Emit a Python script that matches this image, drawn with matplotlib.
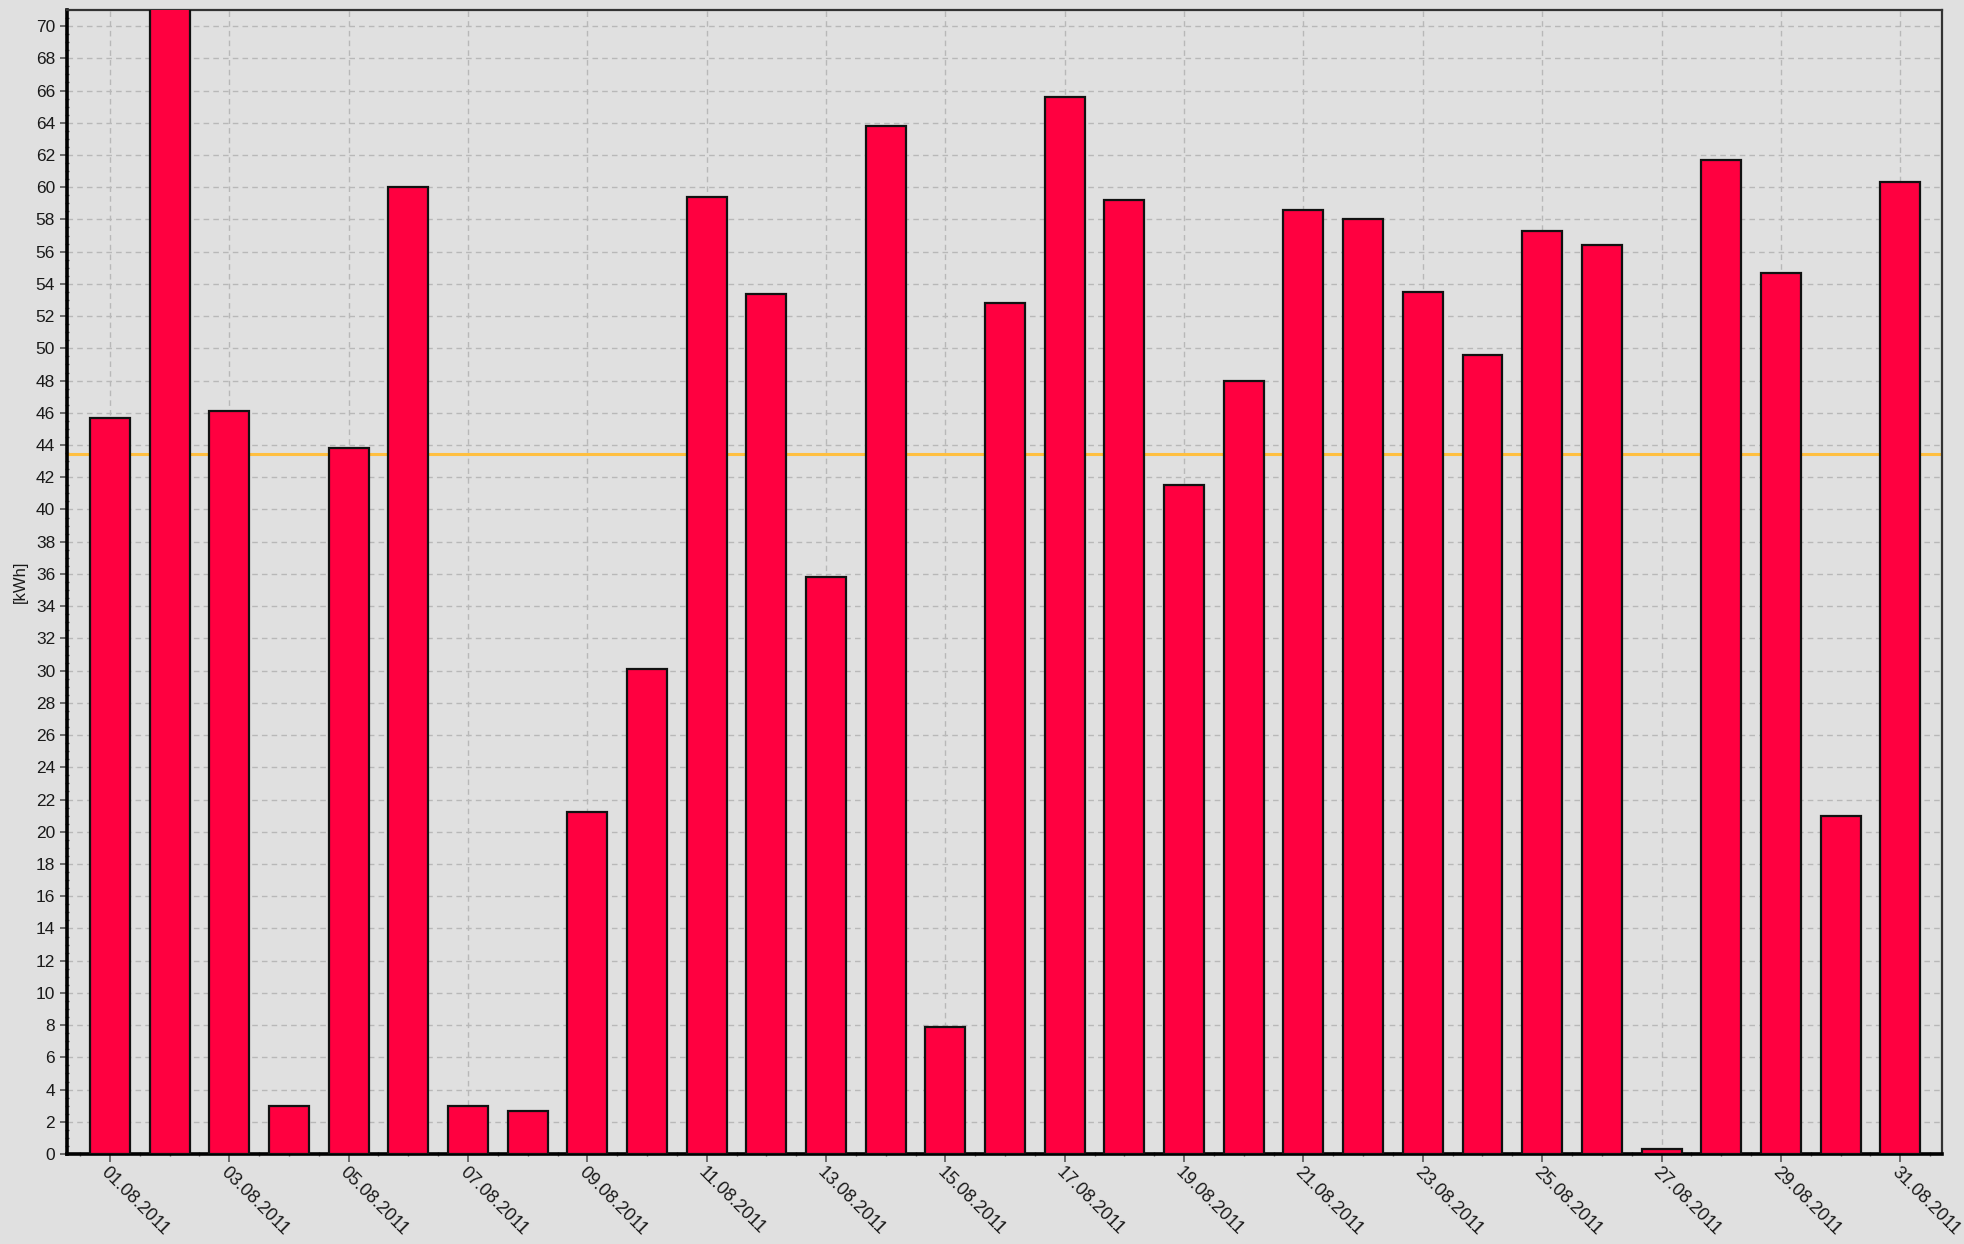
import numpy as np
import matplotlib
matplotlib.use("Agg")
import matplotlib.pyplot as plt
from matplotlib.ticker import MultipleLocator

# Tagesertrag August 2011 in kWh
days = list(range(1, 32))
labels = ["%02d.08.2011" % d for d in days]
energy = [45.7, 71.9, 46.1, 3.0, 43.8, 60.0, 3.0, 2.7, 21.2, 30.1,
          59.4, 53.4, 35.8, 63.8, 7.9, 52.8, 65.6, 59.2, 41.5, 48.0,
          58.6, 58.0, 53.5, 49.6, 57.3, 56.4, 0.3, 61.7, 54.7, 21.0,
          60.3]
avg = np.mean(energy)

plt.rcParams['font.family'] = ['Liberation Sans', 'DejaVu Sans']

fig = plt.figure(figsize=(19.64, 12.44), dpi=100, facecolor='#e0e0e0')
ax = fig.add_axes([0.0341, 0.0723, 0.9547, 0.9197], facecolor='#e0e0e0')

ax.bar(days, energy, width=0.67, color='#ff0040', edgecolor='#111111',
       linewidth=1.6, zorder=3)
ax.axhline(avg, color='#ffbf40', linewidth=2.2, zorder=2)

ax.set_xlim(0.28, 31.7)
ax.set_ylim(0, 71)

ax.set_xticks(days[::2])
ax.set_xticklabels(labels[::2], rotation=-45, ha='left', va='top',
                   rotation_mode='anchor', fontsize=13, color='#1a1a1a')

ax.xaxis.set_minor_locator(MultipleLocator(0.5))
ax.yaxis.set_major_locator(MultipleLocator(2))
ax.yaxis.set_minor_locator(MultipleLocator(0.5))
ax.tick_params(axis='y', labelsize=12.5, labelcolor='#1a1a1a', length=5,
               width=1.2, color='#555555')
ax.tick_params(axis='x', length=6, width=1.2, color='#555555', pad=1)
ax.tick_params(which='minor', length=3, width=1, color='#555555',
               direction='inout')

ax.grid(True, which='major', color='#b8b8b8', linestyle=(0, (4, 3)),
        linewidth=1.0, zorder=1)
ax.set_axisbelow(True)

for side in ['left', 'bottom']:
    ax.spines[side].set_linewidth(2.6)
    ax.spines[side].set_color('#000000')
for side in ['top', 'right']:
    ax.spines[side].set_linewidth(1.6)
    ax.spines[side].set_color('#333333')

ax.set_ylabel('[kWh]', fontsize=12, color='#1a1a1a', labelpad=6)

fig.savefig("out.png", dpi=100, facecolor=fig.get_facecolor())
